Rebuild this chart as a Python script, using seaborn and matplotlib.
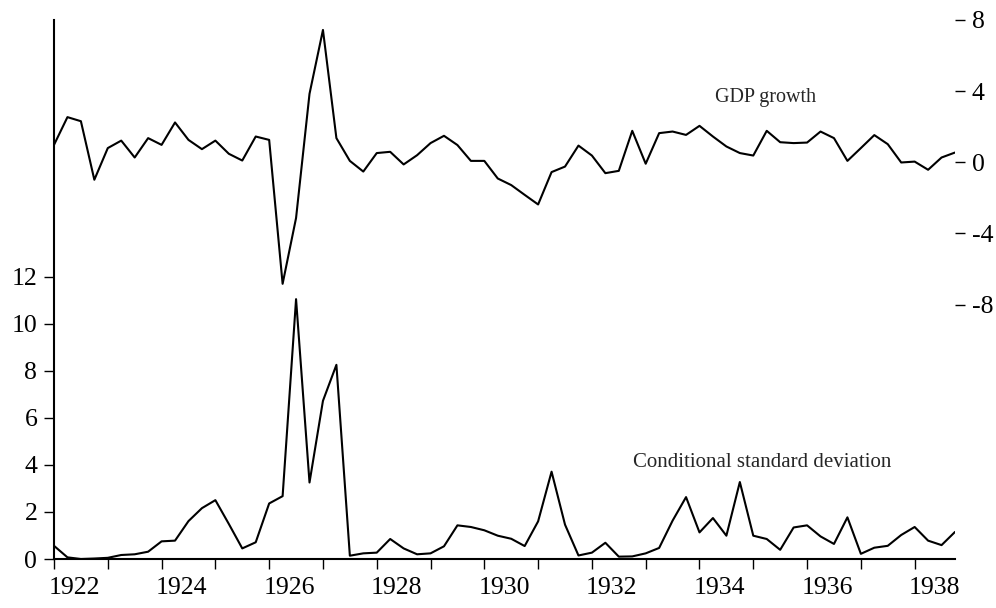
import numpy as np
import pandas as pd
import matplotlib
matplotlib.use("Agg")
import matplotlib.pyplot as plt
import matplotlib.transforms as mtransforms
import seaborn as sns

# quarterly observations, 1922Q1 .. 1938Q4
quarters = np.arange(1922, 1939, 0.25)

gdp_growth = [0.98, 2.54, 2.31, -0.98,
              0.80, 1.22, 0.27, 1.36,
              0.98, 2.24, 1.26, 0.74,
              1.22, 0.48, 0.10, 1.45,
              1.26, -6.83, -3.13, 3.85,
              7.44, 1.36, 0.08, -0.52,
              0.52, 0.59, -0.12, 0.40,
              1.08, 1.49, 0.97, 0.08,
              0.08, -0.91, -1.28, -1.83,
              -2.37, -0.55, -0.24, 0.94,
              0.38, -0.61, -0.48, 1.77,
              -0.08, 1.64, 1.73, 1.54,
              2.05, 1.45, 0.89, 0.52,
              0.38, 1.77, 1.13, 1.08,
              1.11, 1.73, 1.36, 0.08,
              0.80, 1.53, 1.02, -0.01,
              0.04, -0.42, 0.27, 0.55]

cond_sd = [0.56, 0.07, 0.0, 0.02,
           0.05, 0.17, 0.20, 0.31,
           0.75, 0.78, 1.61, 2.16,
           2.50, 1.49, 0.45, 0.71,
           2.36, 2.67, 11.04, 3.25,
           6.72, 8.25, 0.14, 0.24,
           0.27, 0.85, 0.45, 0.20,
           0.24, 0.54, 1.43, 1.36,
           1.22, 0.99, 0.86, 0.55,
           1.60, 3.71, 1.46, 0.15,
           0.27, 0.69, 0.10, 0.11,
           0.24, 0.47, 1.63, 2.63,
           1.13, 1.74, 0.99, 3.27,
           0.99, 0.85, 0.39, 1.34,
           1.43, 0.96, 0.64, 1.77,
           0.22, 0.48, 0.56, 1.02,
           1.36, 0.78, 0.59, 1.15]

left_ticks = [0, 2, 4, 6, 8, 10, 12]
right_ticks = [-8, -4, 0, 4, 8]

df = pd.DataFrame({"t": quarters, "gdp": gdp_growth, "sd": cond_sd})

sns.set_style("ticks")
plt.rcParams['font.family'] = ['Liberation Serif', 'DejaVu Serif']
plt.rcParams['axes.unicode_minus'] = False

fig = plt.figure(figsize=(9.96, 6.08), dpi=100)
ax = fig.add_axes([54/996, 49/608, 901/996, 539/608])

sns.lineplot(data=df, x="t", y="sd", ax=ax, color="black", linewidth=1.5)
ax.set_xlim(1922, 1938.75)
ax.set_ylim(0, 22.9)
ax.set_yticks(left_ticks)
ax.set_xticks(np.arange(1922, 1939, 2))
ax.set_xticks(np.arange(1923, 1939, 2), minor=True)
ax.tick_params(axis="both", which="both", direction="out", length=7, width=1,
               labelsize=18.5, color="black", labelcolor="black")
ax.tick_params(axis="x", pad=6)
ax.tick_params(axis="y", pad=5)
# year labels sit a little to the right of their tick
shift = mtransforms.ScaledTranslation(20/100, 0, fig.dpi_scale_trans)
for lab in ax.get_xticklabels():
    lab.set_transform(lab.get_transform() + shift)
ax.set_xlabel("")
ax.set_ylabel("")
for s in ["top", "right"]:
    ax.spines[s].set_visible(False)
for s in ["left", "bottom"]:
    ax.spines[s].set_linewidth(1.5)
    ax.spines[s].set_color("black")

ax2 = ax.twinx()
sns.lineplot(data=df, x="t", y="gdp", ax=ax2, color="black", linewidth=1.5)
ax2.set_ylim(-22.3, 8)
ax2.set_yticks(right_ticks)
ax2.tick_params(axis="y", direction="out", length=7, width=1, pad=5,
                labelsize=18.5, color="black", labelcolor="black")
ax2.set_ylabel("")
for s in ax2.spines.values():
    s.set_visible(False)

ax2.text(1934.29, 3.62, "GDP growth", fontsize=14.5, ha="left", va="center")
ax.text(1932.76, 4.09, "Conditional standard deviation", fontsize=15, ha="left", va="center")

fig.savefig("out.png", dpi=100)
